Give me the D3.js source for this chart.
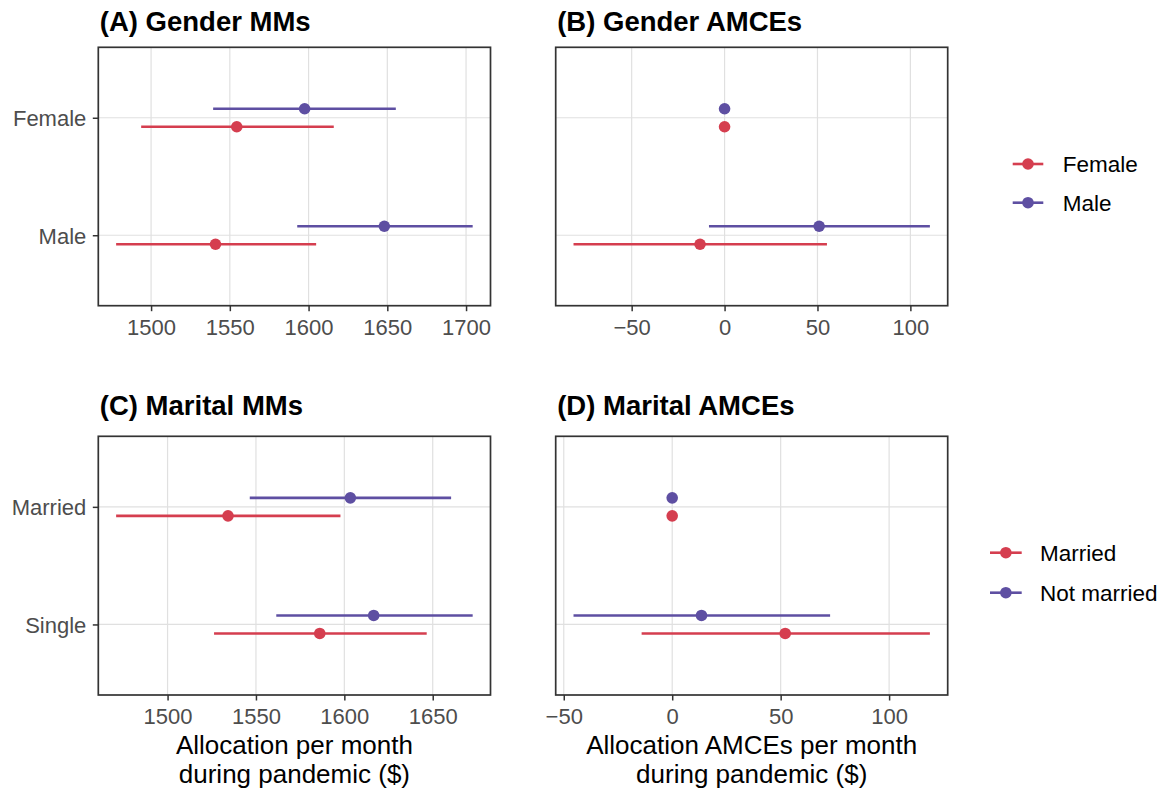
<!DOCTYPE html>
<html>
<head>
<meta charset="utf-8">
<script src="https://cdn.jsdelivr.net/npm/d3@7"></script>
<style>
  html, body { margin: 0; padding: 0; background: #fff; }
  svg { display: block; }
  text { font-family: "Liberation Sans", Arial, Helvetica, sans-serif; }
</style>
</head>
<body>
<svg id="chart" width="1170" height="795"></svg>
<script>
// ---------------- DATA ----------------
const genderRows = ["Female", "Male"];          // y categories (top to bottom)
const maritalRows = ["Married", "Single"];
const genderLevels = ["Female", "Male"];        // colour series
const maritalLevels = ["Married", "Not married"];

// (A) Gender MMs  — values per row [Female, Male]
const aFemaleEst = [1554.4, 1540.9];
const aFemaleLo  = [1493.7, 1477.8];
const aFemaleHi  = [1616.0, 1604.8];
const aMaleEst   = [1597.5, 1648.1];
const aMaleLo    = [1539.4, 1592.8];
const aMaleHi    = [1655.4, 1704.2];

// (B) Gender AMCEs
const bFemaleEst = [0, -13.2];
const bFemaleLo  = [null, -81.3];
const bFemaleHi  = [null, 55.1];
const bMaleEst   = [0, 50.9];
const bMaleLo    = [null, -8.4];
const bMaleHi    = [null, 110.5];

// (C) Marital MMs — values per row [Married, Single]
const cMarriedEst = [1534.2, 1586.1];
const cMarriedLo  = [1470.9, 1526.3];
const cMarriedHi  = [1597.8, 1646.6];
const cNotEst     = [1603.4, 1616.6];
const cNotLo      = [1546.5, 1561.5];
const cNotHi      = [1660.4, 1672.6];

// (D) Marital AMCEs
const dMarriedEst = [0, 52.1];
const dMarriedLo  = [null, -14.1];
const dMarriedHi  = [null, 118.8];
const dNotEst     = [0, 13.5];
const dNotLo      = [null, -45.5];
const dNotHi      = [null, 72.8];

const ticksA = [1500, 1550, 1600, 1650, 1700];
const ticksB = [-50, 0, 50, 100];
const ticksC = [1500, 1550, 1600, 1650];
const ticksD = [-50, 0, 50, 100];

const titles = ["(A) Gender MMs", "(B) Gender AMCEs", "(C) Marital MMs", "(D) Marital AMCEs"];
const xTitleMM = ["Allocation per month", "during pandemic ($)"];
const xTitleAMCE = ["Allocation AMCEs per month", "during pandemic ($)"];

// ---------------- STYLE ----------------
const RED = "#D53E4F", BLUE = "#5E4FA2";
const svg = d3.select("#chart");

function series(rows, est, lo, hi, level) {
  return rows.map((r, i) => ({ row: r, est: est[i], lo: lo[i], hi: hi[i], level }));
}

function panel(opts) {
  const { x0, x1, y0, y1, rows, data, ticks, showY, title, titleY, xTitle, colorScale } = opts;
  const g = svg.append("g");
  const vals = [];
  data.forEach(d => { vals.push(d.est); if (d.lo != null) vals.push(d.lo); if (d.hi != null) vals.push(d.hi); });
  const [mn, mx] = d3.extent(vals);
  const pad = (mx - mn) * 0.05;
  const x = d3.scaleLinear().domain([mn - pad, mx + pad]).range([x0, x1]);
  const y = d3.scalePoint().domain(rows).range([y0, y1]).padding(0.6);
  const dodge = { [opts.levels[0]]: 9, [opts.levels[1]]: -9 };

  // grid
  g.selectAll(".vg").data(ticks).join("line")
    .attr("x1", d => x(d)).attr("x2", d => x(d)).attr("y1", y0).attr("y2", y1)
    .attr("stroke", "#E0E0E0").attr("stroke-width", 1.2);
  g.selectAll(".hg").data(rows).join("line")
    .attr("x1", x0).attr("x2", x1).attr("y1", d => y(d)).attr("y2", d => y(d))
    .attr("stroke", "#E0E0E0").attr("stroke-width", 1.2);

  // error bars
  g.selectAll(".eb").data(data.filter(d => d.lo != null)).join("line")
    .attr("x1", d => x(d.lo)).attr("x2", d => x(d.hi))
    .attr("y1", d => y(d.row) + dodge[d.level]).attr("y2", d => y(d.row) + dodge[d.level])
    .attr("stroke", d => colorScale(d.level)).attr("stroke-width", 2.6);
  g.selectAll(".pt").data(data).join("circle")
    .attr("cx", d => x(d.est)).attr("cy", d => y(d.row) + dodge[d.level])
    .attr("r", 5.8).attr("fill", d => colorScale(d.level));

  // border
  g.append("rect").attr("x", x0).attr("y", y0).attr("width", x1 - x0).attr("height", y1 - y0)
    .attr("fill", "none").attr("stroke", "#333333").attr("stroke-width", 1.7);

  // x axis
  const xa = g.append("g").attr("transform", `translate(0,${y1})`)
    .call(d3.axisBottom(x).tickValues(ticks).tickSize(5.5).tickPadding(4)
      .tickFormat(d => d < 0 ? "\u2212" + Math.abs(d) : String(d)));
  xa.select(".domain").remove();
  xa.selectAll(".tick line").attr("stroke", "#333333").attr("stroke-width", 1.5);
  xa.selectAll(".tick text").attr("fill", "#4D4D4D").style("font-size", "22px")
    .attr("dy", null).attr("y", 29).attr("dominant-baseline", null);

  if (showY) {
    const ya = g.append("g").attr("transform", `translate(${x0},0)`)
      .call(d3.axisLeft(y).tickSize(5.5).tickPadding(4));
    ya.select(".domain").remove();
    ya.selectAll(".tick line").attr("stroke", "#333333").attr("stroke-width", 1.5);
    ya.selectAll(".tick text").attr("fill", "#4D4D4D").style("font-size", "22px")
      .attr("dy", "0.36em").attr("x", -12);
  }

  g.append("text").attr("x", x0 + 1.5).attr("y", titleY)
    .style("font-size", "27.5px").style("font-weight", "bold").attr("fill", "#000").text(title);

  if (xTitle) {
    const cx = (x0 + x1) / 2;
    xTitle.forEach((line, i) => {
      g.append("text").attr("x", cx).attr("y", 753.5 + i * 29.2).attr("text-anchor", "middle")
        .style("font-size", "26px").attr("fill", "#000").text(line);
    });
  }
}

function legend(levels, colorScale, xLine0, xLine1, xText, ys) {
  const g = svg.append("g");
  levels.forEach((lv, i) => {
    g.append("line").attr("x1", xLine0).attr("x2", xLine1).attr("y1", ys[i]).attr("y2", ys[i])
      .attr("stroke", colorScale(lv)).attr("stroke-width", 2.6);
    g.append("circle").attr("cx", (xLine0 + xLine1) / 2).attr("cy", ys[i]).attr("r", 5.8).attr("fill", colorScale(lv));
    g.append("text").attr("x", xText).attr("y", ys[i]).attr("dy", "0.36em")
      .style("font-size", "22.5px").attr("fill", "#000").text(lv);
  });
}

const gColor = d3.scaleOrdinal().domain(genderLevels).range([RED, BLUE]);
const mColor = d3.scaleOrdinal().domain(maritalLevels).range([RED, BLUE]);

panel({ x0: 98.3, x1: 490.5, y0: 47.3, y1: 305.7, rows: genderRows, levels: genderLevels, colorScale: gColor,
  data: [...series(genderRows, aFemaleEst, aFemaleLo, aFemaleHi, "Female"), ...series(genderRows, aMaleEst, aMaleLo, aMaleHi, "Male")],
  ticks: ticksA, showY: true, title: titles[0], titleY: 31 });
panel({ x0: 555.7, x1: 947.7, y0: 47.3, y1: 305.7, rows: genderRows, levels: genderLevels, colorScale: gColor,
  data: [...series(genderRows, bFemaleEst, bFemaleLo, bFemaleHi, "Female"), ...series(genderRows, bMaleEst, bMaleLo, bMaleHi, "Male")],
  ticks: ticksB, showY: false, title: titles[1], titleY: 31 });
panel({ x0: 98.3, x1: 490.5, y0: 436.3, y1: 695, rows: maritalRows, levels: maritalLevels, colorScale: mColor,
  data: [...series(maritalRows, cMarriedEst, cMarriedLo, cMarriedHi, "Married"), ...series(maritalRows, cNotEst, cNotLo, cNotHi, "Not married")],
  ticks: ticksC, showY: true, title: titles[2], titleY: 415, xTitle: xTitleMM });
panel({ x0: 555.7, x1: 947.7, y0: 436.3, y1: 695, rows: maritalRows, levels: maritalLevels, colorScale: mColor,
  data: [...series(maritalRows, dMarriedEst, dMarriedLo, dMarriedHi, "Married"), ...series(maritalRows, dNotEst, dNotLo, dNotHi, "Not married")],
  ticks: ticksD, showY: false, title: titles[3], titleY: 415, xTitle: xTitleAMCE });

legend(genderLevels, gColor, 1012.7, 1043.3, 1062.7, [164, 202.7]);
legend(maritalLevels, mColor, 990, 1021.7, 1040, [552.7, 592.7]);
</script>
</body>
</html>
